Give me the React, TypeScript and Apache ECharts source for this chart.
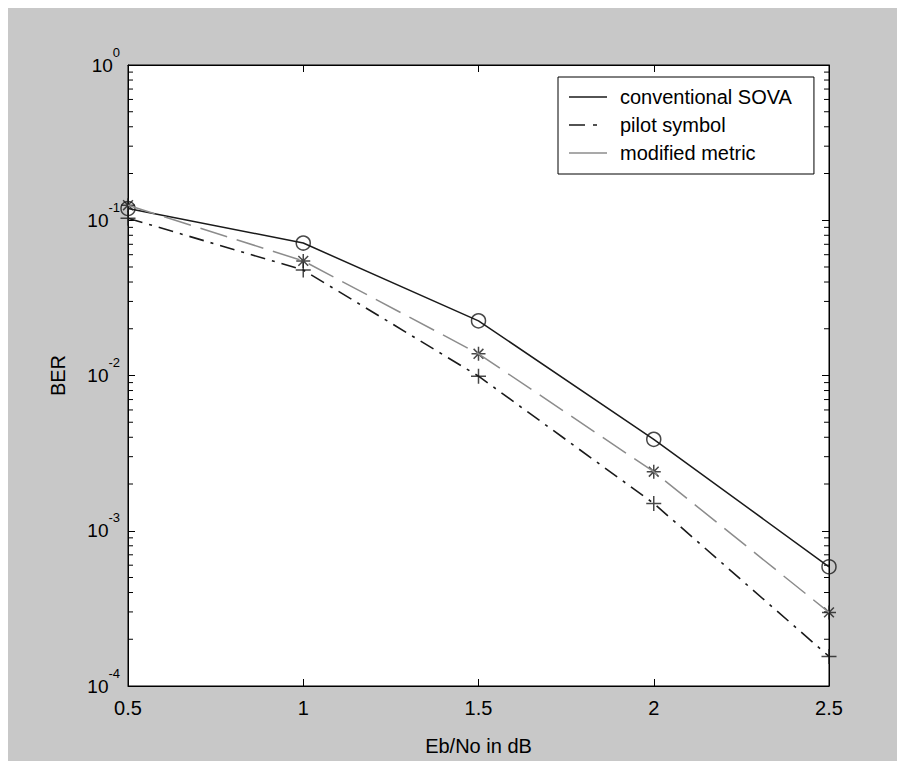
import React, { useEffect, useRef } from "react";
import * as echarts from "echarts";

const ebNo = [0.5, 1, 1.5, 2, 2.5];
const conventionalSova = [0.119, 0.0713, 0.0225, 0.00388, 0.000586];
const pilotSymbol = [0.103, 0.0478, 0.0099, 0.0015, 0.000155];
const modifiedMetric = [0.125, 0.0547, 0.0138, 0.0024, 0.000298];
const xTicks = [0.5, 1, 1.5, 2, 2.5];
const minorTickValues = [
  2e-4, 3e-4, 4e-4, 5e-4, 6e-4, 7e-4, 8e-4, 9e-4,
  2e-3, 3e-3, 4e-3, 5e-3, 6e-3, 7e-3, 8e-3, 9e-3,
  2e-2, 3e-2, 4e-2, 5e-2, 6e-2, 7e-2, 8e-2, 9e-2,
  2e-1, 3e-1, 4e-1, 5e-1, 6e-1, 7e-1, 8e-1, 9e-1,
];
const seriesNames = ["conventional SOVA", "pilot symbol", "modified metric"];

const FONT = "'Liberation Sans', Arial, Helvetica, sans-serif";
const PLUS = "path://M5,0 L5,10 M0,5 L10,5";
const STAR = "path://M5,0 L5,10 M0,5 L10,5 M1.5,1.5 L8.5,8.5 M8.5,1.5 L1.5,8.5";
const ICON_SOLID = "path://M0,0 L38,0 L38,1.6 L0,1.6 Z";
const ICON_DASHDOT = "path://M0,0 L16,0 L16,1.6 L0,1.6 Z M24,0 L28,0 L28,1.6 L24,1.6 Z M38,0 L38,1.6 L38,0 Z";

const pairs = (ys: number[]) => ebNo.map((x, i) => [x, ys[i]]);

export default function App() {
  const ref = useRef<HTMLDivElement>(null);
  useEffect(() => {
    if (!ref.current) return;
    const chart = echarts.init(ref.current, undefined, { renderer: "svg" });
    const xAxisBase = {
      type: "value" as const,
      min: xTicks[0],
      max: xTicks[xTicks.length - 1],
      interval: 0.5,
      splitLine: { show: false },
      axisLine: { show: true, lineStyle: { color: "#000", width: 1 } },
      axisTick: { show: true, inside: true, length: 7, lineStyle: { color: "#000" } },
    };
    const yAxisBase = {
      type: "log" as const,
      logBase: 10,
      min: 1e-4,
      max: 1,
      splitLine: { show: false },
      axisLine: { show: true, lineStyle: { color: "#000", width: 1 } },
      axisTick: { show: true, inside: true, length: 7, lineStyle: { color: "#000" } },
    };
    chart.setOption({
      animation: false,
      backgroundColor: "#c8c8c8",
      grid: {
        left: 120,
        top: 57,
        right: 68,
        bottom: 75,
        show: true,
        backgroundColor: "#ffffff",
        borderColor: "#000",
        borderWidth: 1,
      },
      legend: {
        data: [
          { name: seriesNames[0], icon: ICON_SOLID },
          { name: seriesNames[1], icon: ICON_DASHDOT },
          { name: seriesNames[2], icon: ICON_SOLID },
        ],
        orient: "vertical",
        left: 550,
        top: 69,
        backgroundColor: "#ffffff",
        borderColor: "#000",
        borderWidth: 1,
        borderRadius: 0,
        padding: [9, 22, 10, 11],
        itemWidth: 38,
        itemHeight: 2,
        itemGap: 6,
        textStyle: { fontSize: 20, fontFamily: FONT, color: "#000", padding: [0, 0, 0, 8], lineHeight: 22 },
      },
      xAxis: [
        {
          ...xAxisBase,
          position: "bottom",
          name: "Eb/No in dB",
          nameLocation: "middle",
          nameGap: 50,
          nameTextStyle: { fontSize: 20, fontFamily: FONT, color: "#000" },
          axisLabel: { fontSize: 20, fontFamily: FONT, color: "#000", margin: 12 },
        },
        { ...xAxisBase, position: "top", axisLabel: { show: false } },
      ],
      yAxis: [
        {
          ...yAxisBase,
          position: "left",
          name: "BER",
          nameLocation: "middle",
          nameGap: 60,
          nameTextStyle: { fontSize: 20, fontFamily: FONT, color: "#000" },
          axisLabel: {
            margin: 8,
            padding: [0, 0, 10, 0],
            formatter: (v: number) => `{b|10}{s|${Math.round(Math.log10(v))}}`,
            rich: {
              b: { fontSize: 19, fontFamily: FONT, color: "#000", lineHeight: 19, verticalAlign: "bottom" },
              s: { fontSize: 13, fontFamily: FONT, color: "#000", padding: [0, 0, 16, 0], verticalAlign: "bottom" },
            },
          },
        },
        { ...yAxisBase, position: "right", axisLabel: { show: false } },
      ],
      series: [
        {
          type: "custom",
          name: "minorTicks",
          silent: true,
          clip: false,
          xAxisIndex: 0,
          yAxisIndex: 0,
          data: minorTickValues.map((v) => [xTicks[0], v]),
          renderItem: (params: any, api: any) => {
            const p = api.coord([xTicks[0], api.value(1)]);
            const cs = params.coordSys;
            const st = { stroke: "#000", lineWidth: 1 };
            return {
              type: "group",
              children: [
                { type: "line", shape: { x1: cs.x, y1: p[1], x2: cs.x + 5, y2: p[1] }, style: st },
                { type: "line", shape: { x1: cs.x + cs.width - 5, y1: p[1], x2: cs.x + cs.width, y2: p[1] }, style: st },
              ],
            };
          },
        },
        {
          type: "line",
          name: seriesNames[0],
          data: pairs(conventionalSova),
          symbol: "none",
          lineStyle: { color: "#1a1a1a", width: 1.5, type: "solid" },
          itemStyle: { color: "#1a1a1a" },
        },
        {
          type: "line",
          name: seriesNames[1],
          data: pairs(pilotSymbol),
          symbol: "none",
          lineStyle: { color: "#1a1a1a", width: 1.6, type: [15, 7, 3, 7] },
          itemStyle: { color: "#1a1a1a" },
        },
        {
          type: "line",
          name: seriesNames[2],
          data: pairs(modifiedMetric),
          symbol: "none",
          lineStyle: { color: "#8c8c8c", width: 1.5, type: [28, 10] },
          itemStyle: { color: "#8c8c8c" },
        },
        {
          type: "scatter",
          name: "sovaMarkers",
          data: pairs(conventionalSova),
          symbol: "circle",
          symbolSize: 14,
          itemStyle: { color: "transparent", borderColor: "#1a1a1a", borderWidth: 1.5 },
        },
        {
          type: "scatter",
          name: "pilotMarkers",
          data: pairs(pilotSymbol),
          symbol: PLUS,
          symbolSize: 15,
          itemStyle: { color: "transparent", borderColor: "#1a1a1a", borderWidth: 1.5 },
        },
        {
          type: "scatter",
          name: "modifiedMarkers",
          data: pairs(modifiedMetric),
          symbol: STAR,
          symbolSize: 14,
          itemStyle: { color: "transparent", borderColor: "#1a1a1a", borderWidth: 1.5 },
        },
      ],
    });
    return () => chart.dispose();
  }, []);
  return <div ref={ref} style={{ width: 889, height: 753 }} />;
}
